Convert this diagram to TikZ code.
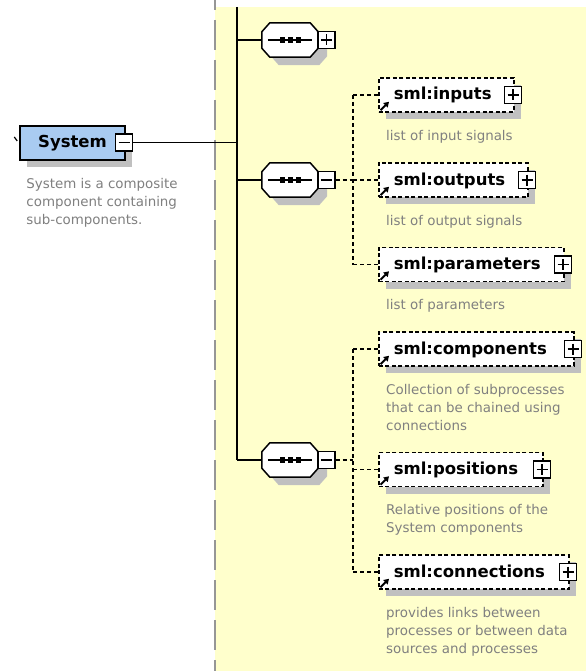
\documentclass[tikz,border=0pt]{standalone}
\usepackage{fontspec}
\setmainfont{DejaVu Sans}
\usetikzlibrary{shadows,arrows.meta}
\definecolor{panelyellow}{RGB}{255,255,204}
\definecolor{shadowgray}{RGB}{192,192,192}
\definecolor{elemblue}{RGB}{169,203,241}
\definecolor{notegray}{RGB}{128,128,128}
\definecolor{rulegray}{RGB}{150,150,150}
\tikzset{
  boxshadow/.style={drop shadow={shadow xshift=7pt, shadow yshift=-7pt, fill=shadowgray, opacity=1}},
  labelfont/.style={font=\bfseries\fontsize{16.5}{18}\selectfont},
  sysbox/.style={draw, fill=elemblue, line width=1.5pt, minimum width=105pt,
    minimum height=34pt, inner sep=0pt, labelfont, boxshadow},
  seqbox/.style={minimum width=56pt, minimum height=34pt, inner sep=0pt},
  octoline/.style={draw, fill=white, line width=1.5pt, line join=miter},
  toggle/.style={draw, fill=white, line width=1.3pt, minimum size=17pt, inner sep=0pt},
  minusbox/.style={toggle, path picture={
    \draw[line width=1.2pt] ([xshift=3pt]path picture bounding box.west)
      -- ([xshift=-3pt]path picture bounding box.east);}},
  plusbox/.style={toggle, path picture={
    \draw[line width=1.2pt] ([xshift=3pt]path picture bounding box.west)
      -- ([xshift=-3pt]path picture bounding box.east);
    \draw[line width=1.2pt] ([yshift=-3pt]path picture bounding box.north)
      -- ([yshift=3pt]path picture bounding box.south);}},
  elembox/.style={draw, dash pattern=on 4pt off 2.5pt, fill=white, line width=1.5pt,
    minimum height=34pt, inner sep=0pt, anchor=west, text height=12pt,
    text depth=2pt, align=left, text width=#1, labelfont, boxshadow},
  note/.style={anchor=north west, inner sep=0pt, align=left, text=notegray,
    font=\fontsize{13.4}{18}\selectfont},
  link/.style={line width=1.5pt},
  reflink/.style={line width=1.5pt, dash pattern=on 4pt off 3pt},
  refmark/.style={line width=1.8pt, -{Triangle[length=5pt,width=6pt]}},
}
% octagonal outline around a compositor node
\newcommand{\octopath}[1]{%
  ([xshift=8pt]#1.north west) -- ([xshift=-8pt]#1.north east)
  -- ([yshift=-9pt]#1.north east) -- ([yshift=9pt]#1.south east)
  -- ([xshift=-8pt]#1.south east) -- ([xshift=8pt]#1.south west)
  -- ([yshift=9pt]#1.south west) -- ([yshift=-9pt]#1.north west) -- cycle}
% children of a sequence: name, vertical centre, right edge, label
\newcommand{\elem}[4]{%
  \node[elembox=#3pt-378pt] (#1) at (378,#2) {\hspace*{15pt}#4};
  \node[plusbox] (#1toggle) at ([xshift=-1.5pt]#1.east) {};
  \draw[refmark] ([shift={(2.5,-2.5)}]#1.south west) -- ([shift={(11,-11)}]#1.south west);
}
% compositor: name, vertical centre, toggle style
\newcommand{\seq}[3]{%
  \node[seqbox] (#1) at (290,#2) {};
  \fill[shadowgray, transform canvas={shift={(9,8)}}] \octopath{#1};
  \path[octoline] \octopath{#1};
  \draw[line width=1.2pt] ([xshift=6pt]#1.west) -- ([xshift=-6pt]#1.east);
  \foreach \dx in {-7.5,0.5,8.5}
    \fill ([xshift=\dx pt]#1.center) +(-2.6,-2.6) rectangle +(2.6,2.6);
  \node[#3] (#1toggle) at (326.5,#2) {};
}
\begin{document}
\begin{tikzpicture}[x=1pt,y=-1pt]
\useasboundingbox (0,0) rectangle (586,671);
\fill[white] (0,0) rectangle (586,671);
\fill[panelyellow] (215,7) rectangle (586,671);
\draw[rulegray, line width=2.2pt, dash pattern=on 30pt off 10pt, dash phase=20pt]
  (215,0) -- (215,671);

% the System element and its annotation
\node[sysbox] (system) at (72.5,143) {System\hspace{9pt}};
\node[minusbox] (sysminus) at (124,142.5) {};
\draw[line width=1.2pt] ([shift={(-5,-6)}]system.west) -- ([shift={(-2,-2)}]system.west);
\node[note] (systemnote) at ([shift={(7,17)}]system.south west)
  {System is a composite\\component containing\\sub-components.};

% the three sequence compositors
\seq{seqA}{40}{plusbox}
\seq{seqB}{180}{minusbox}
\seq{seqC}{460}{minusbox}

% solid trunk from System to the compositors
\coordinate (trunktop) at (237,7);
\draw[link] (trunktop) -- (trunktop |- seqC.west);
\draw[link] (sysminus.east) -- (trunktop |- sysminus.east);
\draw[link] (trunktop |- seqA.west) -- (seqA.west);
\draw[link] (trunktop |- seqB.west) -- (seqB.west);
\draw[link] (trunktop |- seqC.west) -- (seqC.west);

% children of the second sequence
\elem{inputs}{95}{513}{sml:inputs}
\elem{outputs}{180}{527}{sml:outputs}
\elem{params}{264.5}{563}{sml:parameters}
\node[note] (inputsnote) at ([shift={(8,17)}]inputs.south west) {list of input signals};
\node[note] (outputsnote) at ([shift={(8,17)}]outputs.south west) {list of output signals};
\node[note] (paramsnote) at ([shift={(8,17)}]params.south west) {list of parameters};

\coordinate (busB) at (353,180);
\draw[reflink] (seqBtoggle.east) -- (busB);
\draw[reflink] (busB |- inputs.west) -- (busB |- params.west);
\draw[reflink] (busB |- inputs.west) -- (inputs.west);
\draw[reflink] (busB |- outputs.west) -- (outputs.west);
\draw[reflink] (busB |- params.west) -- (params.west);

% children of the third sequence
\elem{components}{349}{573}{sml:components}
\elem{positions}{469.5}{542}{sml:positions}
\elem{connections}{572}{568}{sml:connections}
\node[note] (componentsnote) at ([shift={(8,17)}]components.south west)
  {Collection of subprocesses\\that can be chained using\\connections};
\node[note] (positionsnote) at ([shift={(8,17)}]positions.south west)
  {Relative positions of the\\System components};
\node[note] (connectionsnote) at ([shift={(8,17)}]connections.south west)
  {provides links between\\processes or between data\\sources and processes};

\coordinate (busC) at (353,460);
\draw[reflink] (seqCtoggle.east) -- (busC);
\draw[reflink] (busC |- components.west) -- (busC |- connections.west);
\draw[reflink] (busC |- components.west) -- (components.west);
\draw[reflink] (busC |- positions.west) -- (positions.west);
\draw[reflink] (busC |- connections.west) -- (connections.west);
\end{tikzpicture}
\end{document}
